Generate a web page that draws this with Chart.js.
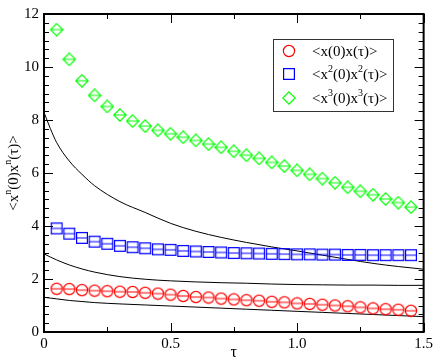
<!DOCTYPE html>
<html>
<head>
<meta charset="utf-8">
<script src="https://cdn.jsdelivr.net/npm/chart.js@4.4.0/dist/chart.umd.min.js"></script>
<style>
  html, body { margin: 0; padding: 0; background: #fff; }
</style>
</head>
<body>
<canvas id="corr" width="436" height="364"></canvas>
<script>
// simulated points, tau = 0.05 ... 1.45
const tauPoints = [0.05, 0.10, 0.15, 0.20, 0.25, 0.30, 0.35, 0.40, 0.45, 0.50,
  0.55, 0.60, 0.65, 0.70, 0.75, 0.80, 0.85, 0.90, 0.95, 1.00,
  1.05, 1.10, 1.15, 1.20, 1.25, 1.30, 1.35, 1.40, 1.45];
const corrX1 = [1.63, 1.62, 1.58, 1.56, 1.54, 1.52, 1.51, 1.48, 1.45, 1.41,
  1.36, 1.32, 1.30, 1.26, 1.23, 1.20, 1.18, 1.14, 1.12, 1.08,
  1.06, 1.03, 1.00, 0.97, 0.93, 0.89, 0.86, 0.84, 0.80];
const corrX2 = [3.91, 3.71, 3.55, 3.41, 3.33, 3.25, 3.20, 3.16, 3.12, 3.10,
  3.06, 3.04, 3.02, 3.00, 2.98, 2.97, 2.96, 2.95, 2.94, 2.93,
  2.93, 2.92, 2.92, 2.91, 2.91, 2.90, 2.90, 2.90, 2.90];
const corrX3 = [11.41, 10.29, 9.48, 8.93, 8.51, 8.19, 7.96, 7.77, 7.61, 7.48,
  7.35, 7.23, 7.09, 6.97, 6.82, 6.67, 6.55, 6.40, 6.26, 6.10,
  5.95, 5.79, 5.63, 5.46, 5.31, 5.18, 5.02, 4.88, 4.71];

// the three solid black curves
const tauCurve = [0, 0.025, 0.05, 0.1, 0.15, 0.2, 0.3, 0.4, 0.5, 0.6,
  0.7, 0.8, 0.9, 1.0, 1.1, 1.2, 1.3, 1.4, 1.5];
const curveTop = [8.29, 7.68, 7.15, 6.45, 5.95, 5.52, 4.92, 4.51, 4.10, 3.80,
  3.57, 3.38, 3.21, 3.06, 2.90, 2.74, 2.59, 2.47, 2.37];
const curveMid = [2.95, 2.83, 2.72, 2.53, 2.38, 2.26, 2.09, 1.99, 1.93, 1.89,
  1.86, 1.84, 1.81, 1.79, 1.78, 1.77, 1.77, 1.76, 1.76];
const curveLow = [1.31, 1.28, 1.25, 1.19, 1.15, 1.11, 1.06, 1.02, 0.98, 0.94,
  0.90, 0.86, 0.82, 0.78, 0.74, 0.70, 0.66, 0.62, 0.58];

const xMajor = [0, 0.5, 1, 1.5];
const yMajor = [0, 2, 4, 6, 8, 10, 12];

const serif = '"Liberation Serif", "DejaVu Serif", serif';

function pairs(xs, ys) {
  return xs.map((x, i) => ({ x: x, y: ys[i] }));
}

// open symbol with a horizontal bar through it
function makeMarker(shape, color, withBar) {
  const c = document.createElement('canvas');
  c.width = 14; c.height = 14;
  const g = c.getContext('2d');
  g.strokeStyle = color;
  g.lineWidth = 1.2;
  g.beginPath();
  if (shape === 'circle') {
    g.arc(7, 7, 5.6, 0, 2 * Math.PI);
  } else if (shape === 'square') {
    g.rect(1.6, 1.6, 10.8, 10.8);
  } else {
    g.moveTo(7, 0.8); g.lineTo(13.2, 7); g.lineTo(7, 13.2); g.lineTo(0.8, 7); g.closePath();
  }
  if (withBar) {
    g.moveTo(1.2, 7); g.lineTo(12.8, 7);
  }
  g.stroke();
  return c;
}

const symCircle = makeMarker('circle', '#ff0000', true);
const symSquare = makeMarker('square', '#0000ff', true);
const symDiamond = makeMarker('diamond', '#00ff00', true);
const legCircle = makeMarker('circle', '#ff0000', false);
const legSquare = makeMarker('square', '#0000ff', false);
const legDiamond = makeMarker('diamond', '#00ff00', false);

// text with superscripts: parts = [[text, isSup], ...]
function richText(ctx, parts, x, y, size) {
  let cx = x;
  parts.forEach(p => {
    const sup = p[1];
    ctx.font = (sup ? Math.round(size * 0.68) : size) + 'px ' + serif;
    ctx.fillText(p[0], cx, sup ? y - size * 0.38 : y);
    cx += ctx.measureText(p[0]).width;
  });
  return cx - x;
}
function richWidth(ctx, parts, size) {
  let w = 0;
  parts.forEach(p => {
    ctx.font = (p[1] ? Math.round(size * 0.68) : size) + 'px ' + serif;
    w += ctx.measureText(p[0]).width;
  });
  return w;
}

const frameAndTicks = {
  id: 'frameAndTicks',
  afterDraw(chart) {
    const ctx = chart.ctx;
    const a = chart.chartArea;
    const xs = chart.scales.x, ys = chart.scales.y;
    ctx.save();
    ctx.strokeStyle = '#000';
    ctx.lineWidth = 1;
    ctx.beginPath();
    // x ticks, top and bottom, inward
    for (let v = 0; v <= 1.5001; v += 0.25) {
      const px = Math.round(xs.getPixelForValue(v)) + 0.5;
      const len = Math.abs(v / 0.5 - Math.round(v / 0.5)) < 1e-6 ? 9 : 5;
      ctx.moveTo(px, a.bottom); ctx.lineTo(px, a.bottom - len);
      ctx.moveTo(px, a.top); ctx.lineTo(px, a.top + len);
    }
    // y ticks, left and right, inward
    for (let k = 0; k <= 36; k++) {
      const v = k * 2 / 6;
      const py = Math.round(ys.getPixelForValue(v)) + 0.5;
      const len = k % 6 === 0 ? 9 : 5;
      ctx.moveTo(a.left, py); ctx.lineTo(a.left + len, py);
      ctx.moveTo(a.right, py); ctx.lineTo(a.right - len, py);
    }
    ctx.stroke();
    ctx.lineWidth = 2;
    ctx.strokeRect(a.left, a.top, a.right - a.left, a.bottom - a.top);

    // axis titles
    ctx.fillStyle = '#000';
    ctx.textBaseline = 'middle';
    ctx.font = '16px ' + serif;
    ctx.textAlign = 'center';
    ctx.fillText('\u03c4', (a.left + a.right) / 2, 353);
    ctx.textAlign = 'left';
    const yTitle = [['<x', false], ['n', true], ['(0)x', false], ['n', true], ['(\u03c4)>', false]];
    const w = richWidth(ctx, yTitle, 15);
    ctx.save();
    ctx.translate(14, (a.top + a.bottom) / 2);
    ctx.rotate(-Math.PI / 2);
    richText(ctx, yTitle, -w / 2, 0, 15);
    ctx.restore();

    // legend box
    ctx.lineWidth = 1;
    ctx.strokeStyle = '#333';
    ctx.strokeRect(273.5, 39.5, 120, 72);
    const rows = [
      [legCircle, 51, [['<x(0)x(\u03c4)>', false]]],
      [legSquare, 74, [['<x', false], ['2', true], ['(0)x', false], ['2', true], ['(\u03c4)>', false]]],
      [legDiamond, 98, [['<x', false], ['3', true], ['(0)x', false], ['3', true], ['(\u03c4)>', false]]]
    ];
    rows.forEach(r => {
      ctx.drawImage(r[0], 289 - 7, r[1] - 7);
      richText(ctx, r[2], 312, r[1] + 1, 15);
    });
    ctx.restore();
  }
};

const ctx = document.getElementById('corr').getContext('2d');
const chart = new Chart(ctx, {
  type: 'scatter',
  data: {
    datasets: [
      {
        label: '<x(0)x(\u03c4)>',
        data: pairs(tauPoints, corrX1),
        pointStyle: symCircle,
        showLine: false
      },
      {
        label: '<x2(0)x2(\u03c4)>',
        data: pairs(tauPoints, corrX2),
        pointStyle: symSquare,
        showLine: false
      },
      {
        label: '<x3(0)x3(\u03c4)>',
        data: pairs(tauPoints, corrX3),
        pointStyle: symDiamond,
        showLine: false
      },
      {
        label: 'curve top',
        data: pairs(tauCurve, curveTop),
        showLine: true,
        borderColor: '#000',
        borderWidth: 1,
        pointRadius: 0,
        cubicInterpolationMode: 'monotone'
      },
      {
        label: 'curve mid',
        data: pairs(tauCurve, curveMid),
        showLine: true,
        borderColor: '#000',
        borderWidth: 1,
        pointRadius: 0,
        cubicInterpolationMode: 'monotone'
      },
      {
        label: 'curve low',
        data: pairs(tauCurve, curveLow),
        showLine: true,
        borderColor: '#000',
        borderWidth: 1,
        pointRadius: 0,
        cubicInterpolationMode: 'monotone'
      }
    ]
  },
  options: {
    responsive: false,
    animation: false,
    layout: { padding: { top: 6, right: 12, left: 0, bottom: 0 } },
    plugins: {
      legend: { display: false },
      tooltip: { enabled: false }
    },
    scales: {
      x: {
        type: 'linear',
        min: 0,
        max: 1.5,
        afterFit: s => { s.height = 32; },
        afterBuildTicks: s => { s.ticks = xMajor.map(v => ({ value: v })); },
        grid: { display: false, drawTicks: false },
        border: { display: false },
        ticks: {
          padding: 3,
          color: '#000',
          font: { family: serif, size: 15 }
        }
      },
      y: {
        type: 'linear',
        min: 0,
        max: 12,
        afterFit: s => { s.width = 44; },
        afterBuildTicks: s => { s.ticks = yMajor.map(v => ({ value: v })); },
        grid: { display: false, drawTicks: false },
        border: { display: false },
        ticks: {
          padding: 5,
          color: '#000',
          font: { family: serif, size: 15 }
        }
      }
    }
  },
  plugins: [frameAndTicks]
});
</script>
</body>
</html>
